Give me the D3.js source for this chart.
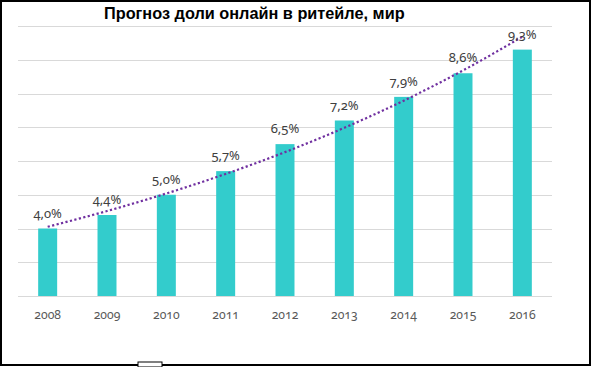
<!DOCTYPE html>
<html>
<head>
<meta charset="utf-8">
<script src="https://cdn.jsdelivr.net/npm/d3@7"></script>
<style>
  html, body { margin: 0; padding: 0; background: #fff; }
  svg { display: block; }
  .title { font-family: "Liberation Sans", Arial, sans-serif; font-weight: bold; font-size: 16.3px; fill: #000; }
  .tick text { font-family: "Noto Sans", sans-serif; font-size: 12.2px; fill: #595959; font-variant-numeric: oldstyle-nums; }
  .label { font-family: "Noto Sans", sans-serif; font-size: 13px; fill: #404040; font-variant-numeric: oldstyle-nums; }
</style>
</head>
<body>
<svg id="chart" width="592" height="367"></svg>
<script>
(function(){
	'use strict';

	// DATA
	var years = ['2008', '2009', '2010', '2011', '2012', '2013', '2014', '2015', '2016'];
	var share = [4.0, 4.4, 5.0, 5.7, 6.5, 7.2, 7.9, 8.6, 9.3];
	var gridValues = [2, 3, 4, 5, 6, 7, 8, 9, 10];
	var title = 'Прогноз доли онлайн в ритейле, мир';

	var width = 592, height = 367;
	var margin = { top: 26, bot: 71, left: 18, right: 40 };

	var svg = d3.select('#chart');

	// frame
	svg.append('rect')
		.attr('x', 1).attr('y', 1)
		.attr('width', 589).attr('height', 364)
		.attr('fill', '#fff').attr('stroke', '#000').attr('stroke-width', 2);

	var xScale = d3.scaleBand()
		.domain(years)
		.range([margin.left, width - margin.right])
		.paddingInner(0.68)
		.paddingOuter(0.34);

	var yScale = d3.scaleLinear()
		.domain([2, 10])
		.range([height - margin.bot, margin.top]);

	// grid
	svg.append('g').attr('class', 'grid')
		.selectAll('line').data(gridValues).enter().append('line')
		.attr('x1', margin.left).attr('x2', width - margin.right)
		.attr('y1', function(d){ return Math.round(yScale(d)) + 0.5; })
		.attr('y2', function(d){ return Math.round(yScale(d)) + 0.5; })
		.attr('stroke', '#d9d9d9').attr('stroke-width', 1);

	// bars
	svg.append('g').selectAll('rect').data(share).enter().append('rect')
		.attr('x', function(d, i){ return xScale(years[i]); })
		.attr('y', function(d){ return yScale(d); })
		.attr('width', xScale.bandwidth())
		.attr('height', function(d){ return yScale(2) - yScale(d); })
		.attr('fill', '#33cccc');

	// x axis labels
	var xAxis = d3.axisBottom(xScale).tickSize(0).tickPadding(14);
	var ax = svg.append('g')
		.attr('transform', 'translate(0,' + yScale(2) + ')')
		.call(xAxis);
	ax.select('.domain').remove();

	// exponential trendline (least squares on ln y)
	var n = share.length;
	var lx = d3.range(n), ly = share.map(Math.log);
	var mx = d3.mean(lx), my = d3.mean(ly);
	var b = d3.sum(lx, function(x, i){ return (x - mx) * (ly[i] - my); }) /
		d3.sum(lx, function(x){ return (x - mx) * (x - mx); });
	var a = my - b * mx;
	var trend = years.map(function(y, i){ return [i, Math.exp(a + b * i)]; });

	var line = d3.line()
		.x(function(d){ return xScale(years[d[0]]) + xScale.bandwidth() / 2; })
		.y(function(d){ return yScale(d[1]); })
		.curve(d3.curveMonotoneX);

	svg.append('path')
		.datum(trend)
		.attr('d', line)
		.attr('fill', 'none')
		.attr('stroke', '#7030a0')
		.attr('stroke-width', 2.2)
		.attr('stroke-dasharray', '2.2 2.4');

	// data labels
	svg.append('g').selectAll('text').data(share).enter().append('text')
		.attr('class', 'label')
		.attr('x', function(d, i){ return xScale(years[i]) + xScale.bandwidth() / 2; })
		.attr('y', function(d){ return yScale(d) - 11; })
		.attr('text-anchor', 'middle')
		.text(function(d){ return d.toFixed(1).replace('.', ',') + '%'; });

	// title
	svg.append('text')
		.attr('class', 'title')
		.attr('x', 104).attr('y', 19)
		.text(title);

	// small handle on the bottom edge
	svg.append('rect')
		.attr('x', 138).attr('y', 362)
		.attr('width', 24).attr('height', 5)
		.attr('fill', '#fff').attr('stroke', '#000').attr('stroke-width', 1);

})();
</script>
</body>
</html>
